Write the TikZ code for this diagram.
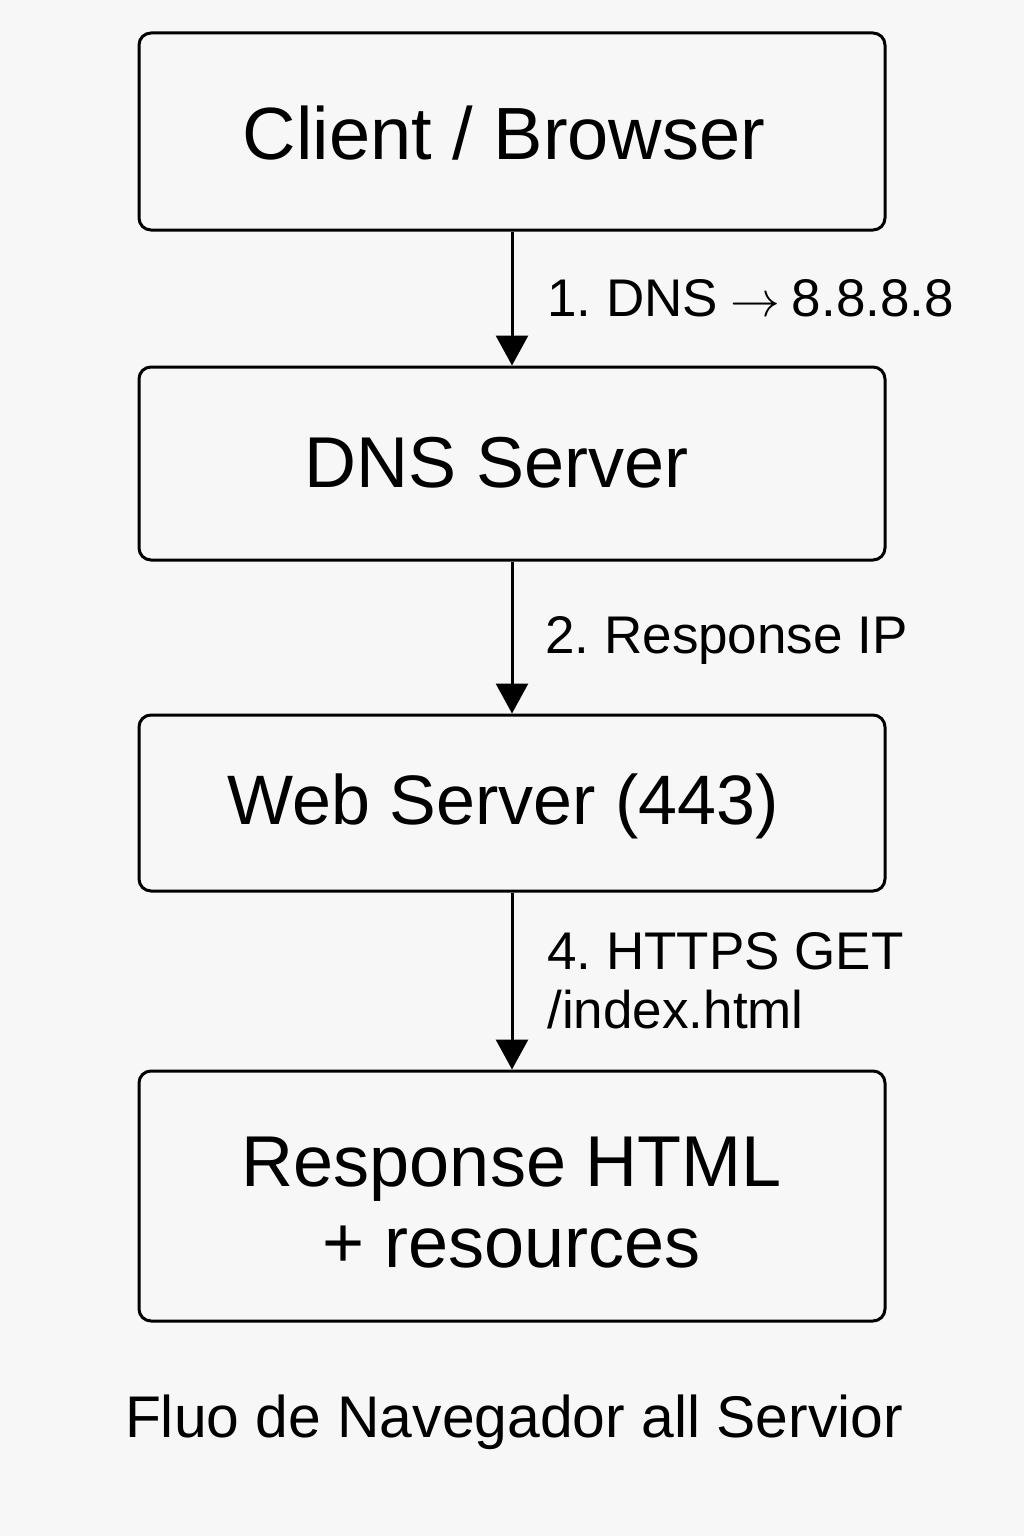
\documentclass[tikz,border=0pt]{standalone}
\usepackage{fontspec}
\setmainfont{Liberation Sans}
\usetikzlibrary{arrows.meta}
\definecolor{bgc}{HTML}{F7F7F7}
\frenchspacing
\tikzset{
  box/.style={draw=black, line width=1.5pt, rounded corners=6pt, fill=bgc,
    minimum width=373pt, inner sep=0pt},
  boxtext/.style={inner sep=0pt, align=center, font=\fontsize{36}{40.5}\selectfont},
  arr/.style={line width=1.5pt, -{Triangle[width=16pt,length=15pt]}},
  lbl/.style={inner sep=0pt, anchor=base west, align=left,
    font=\fontsize{26.5}{29.5}\selectfont},
}
\newcommand{\myarrow}{\hspace{6pt}{\fontsize{24}{24}\selectfont$\rightarrow$}\hspace{6pt}}
\begin{document}
\begin{tikzpicture}[x=0.5pt,y=-0.5pt]
  \fill[bgc] (0,0) rectangle (1024,1536);
  \useasboundingbox (0,0) rectangle (1024,1536);
  \node[box, minimum height=98.5pt] (b1) at (512,131.5) {};
  \node[box, minimum height=96.5pt] (b2) at (512,463.5) {};
  \node[box, minimum height=88pt] (b3) at (512,803) {};
  \node[box, minimum height=125pt] (b4) at (512,1196) {};
  \node[boxtext, font=\fontsize{37}{40.5}\selectfont] (t1) at (504,133) {Client / Browser};
  \node[boxtext] (t2) at (497,463) {DNS Server};
  \node[boxtext, font=\fontsize{35}{40.5}\selectfont] (t3) at (503,806) {Web Server (443)};
  \node[boxtext] (t4) at (512,1202.5) {Response HTML\\+ resources};
  \draw[arr] (b1) -- (b2);
  \draw[arr] (b2) -- (b3);
  \draw[arr] (b3) -- (b4);
  \node[lbl] (l1) at (547,316) {1. DNS\myarrow8.8.8.8};
  \node[lbl] (l2) at (545,653) {2. Response IP};
  \node[lbl] (l4) at (547,1028) {4. HTTPS GET\\/index.html};
  \node[inner sep=0pt, anchor=base, font=\fontsize{29.4}{34}\selectfont] (t) at (514,1437) {Fluo de Navegador all Servior};
\end{tikzpicture}
\end{document}
